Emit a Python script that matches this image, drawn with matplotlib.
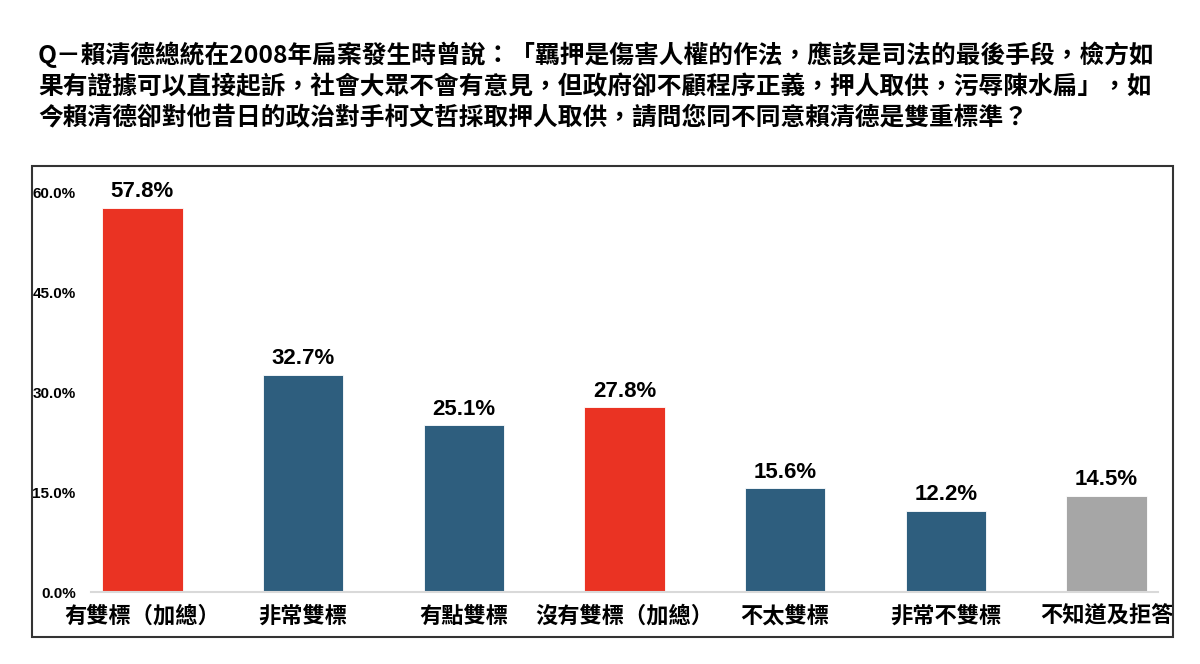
import matplotlib
matplotlib.use("Agg")
import matplotlib.pyplot as plt
from matplotlib.patches import Rectangle

plt.rcParams['font.family'] = ['Noto Sans CJK TC', 'DejaVu Sans']

categories = ["有雙標（加總）", "非常雙標", "有點雙標", "沒有雙標（加總）", "不太雙標", "非常不雙標", "不知道及拒答"]
values = [57.8, 32.7, 25.1, 27.8, 15.6, 12.2, 14.5]
bar_colors = ["#EA3323", "#2E5E7E", "#2E5E7E", "#EA3323", "#2E5E7E", "#2E5E7E", "#A6A6A6"]
yticks = [0, 15, 30, 45, 60]
ytick_labels = ["0.0%", "15.0%", "30.0%", "45.0%", "60.0%"]
title_lines = [
    "Q－賴清德總統在2008年扁案發生時曾說：「羈押是傷害人權的作法，應該是司法的最後手段，檢方如",
    "果有證據可以直接起訴，社會大眾不會有意見，但政府卻不顧程序正義，押人取供，污辱陳水扁」，如",
    "今賴清德卻對他昔日的政治對手柯文哲採取押人取供，請問您同不同意賴清德是雙重標準？",
]

W, H = 1200, 664
fig = plt.figure(figsize=(12, 6.64), dpi=100)
ax = fig.add_axes([91 / W, 72 / H, 1067 / W, (592 - 193) / H])

x = list(range(len(categories)))
ax.bar(x, values, width=0.5, color=bar_colors, edgecolor="white", linewidth=0.6, zorder=2)
for xi, v in zip(x, values):
    ax.annotate(f"{v:.1f}%", (xi, v), xytext=(0, 4), textcoords="offset points",
                ha="center", va="bottom", fontsize=16, fontweight="bold",
                family=["Liberation Sans", "DejaVu Sans"], clip_on=False)

ax.set_xlim(-0.32, 6.32)
ax.set_ylim(0, 60)
ax.set_yticks(yticks)
ax.set_yticklabels(ytick_labels, fontsize=11, fontweight="bold", family=["Liberation Sans", "DejaVu Sans"])
ax.set_xticks(x)
ax.set_xticklabels(categories, fontsize=16, fontweight="bold")
ax.tick_params(axis="y", length=0, pad=11)
ax.tick_params(axis="x", length=0, pad=9)
for s in ["top", "right", "left"]:
    ax.spines[s].set_visible(False)
ax.spines["bottom"].set_color("#D9D9D9")
ax.spines["bottom"].set_linewidth(1.5)

for i, (line, yc) in enumerate(zip(title_lines, [55, 87, 118])):
    fig.text(38 / W, 1 - yc / H, line, ha="left", va="center", fontsize=17.8, fontweight="bold", color="black")

fig.patches.append(Rectangle((32 / W, (H - 637) / H), (1173 - 32) / W, (637 - 166) / H,
                             transform=fig.transFigure, fill=False, edgecolor="#333333", linewidth=1.5))

fig.savefig("out.png", dpi=100)
